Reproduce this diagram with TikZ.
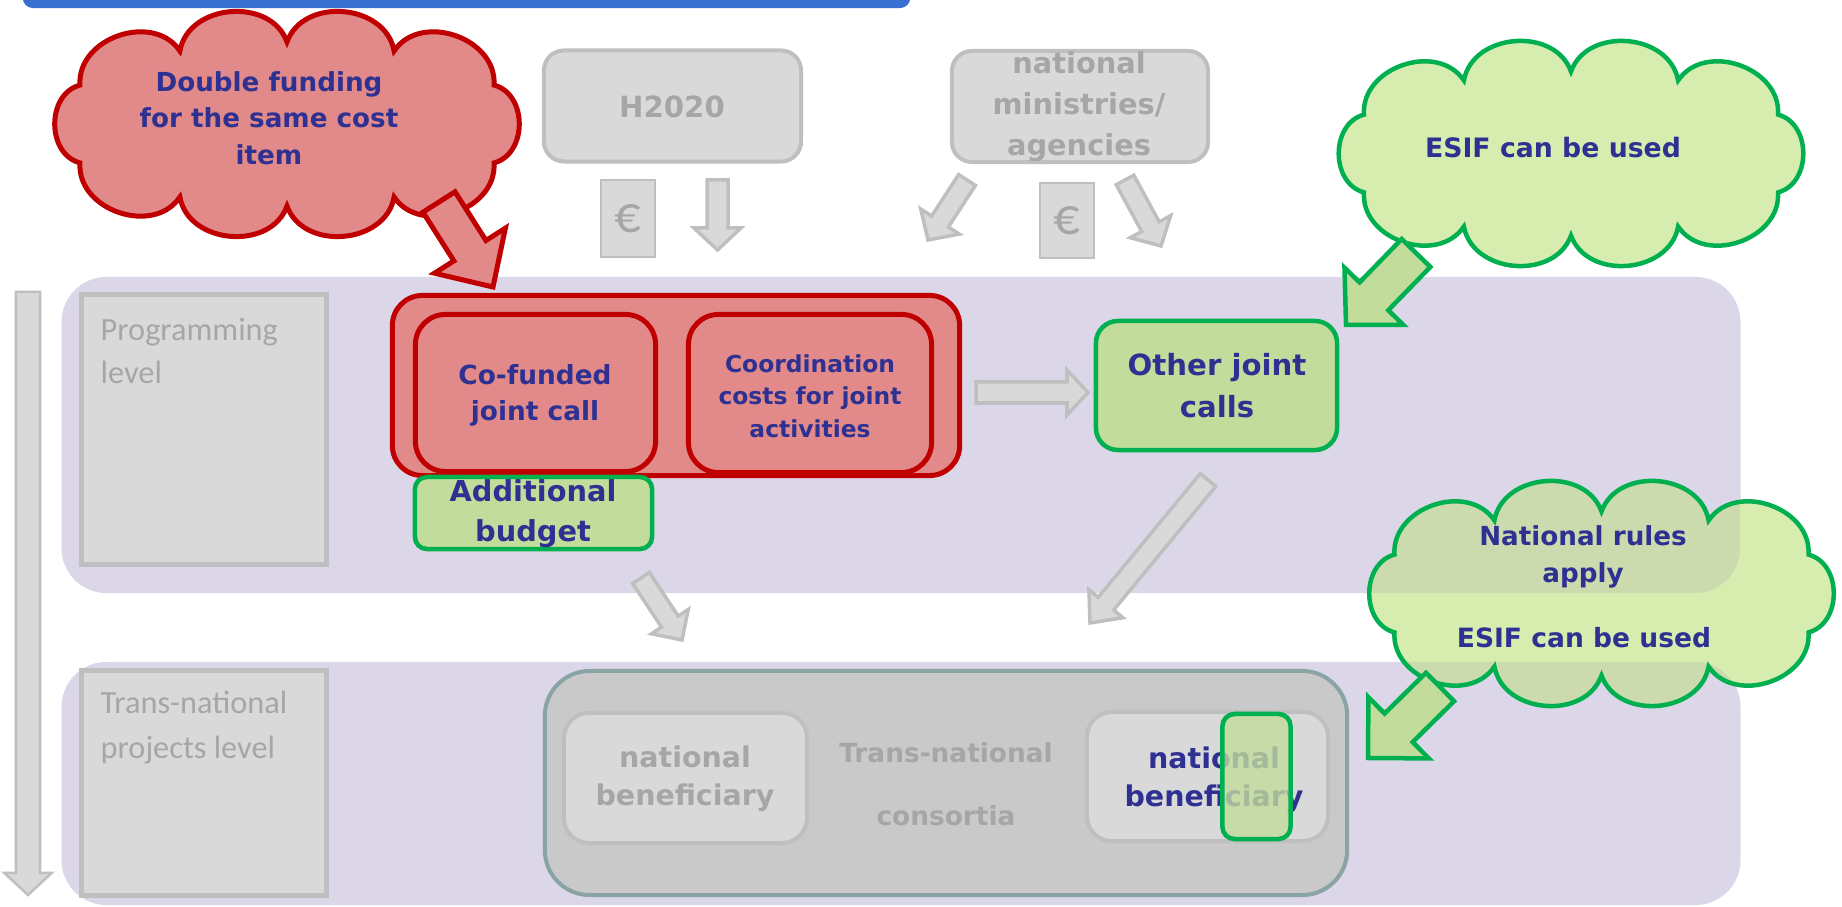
\documentclass[tikz,border=0pt]{standalone}
\usepackage{fontspec}
\setmainfont{DejaVu Sans}
\newfontfamily\calib{Carlito}
\usetikzlibrary{calc}
\definecolor{txtblue}{HTML}{2E3192}
\definecolor{gtxt}{HTML}{A6A6A6}
\definecolor{gfill}{HTML}{D9D9D9}
\definecolor{gline}{HTML}{BFBFBF}
\definecolor{redline}{HTML}{C00000}
\definecolor{redfill}{HTML}{E28A8A}
\definecolor{grnline}{HTML}{00B050}
\definecolor{grnfill}{HTML}{C2DC9B}
\definecolor{cloudfill}{HTML}{D7EDB0}
\definecolor{bandcol}{HTML}{DCD7E8}
\definecolor{bandpurple}{HTML}{8064A2}
\definecolor{consfill}{HTML}{C9C9C9}
\definecolor{consline}{HTML}{8AA4A6}
\definecolor{barblue}{HTML}{3A6FD2}
\newcommand\fs[2]{\fontsize{#1}{#2}\selectfont}
\newcommand\blockarrow[6]{%
 \coordinate (hb) at ($(#3)!#6!(#2)$);
 \draw[#1] ($(#2)!#4!90:(#3)$) -- ($(hb)!#4!90:(#3)$) -- ($(hb)!#5!90:(#3)$) -- (#3) -- ($(hb)!#5!-90:(#3)$) -- ($(hb)!#4!-90:(#3)$) -- ($(#2)!#4!-90:(#3)$) -- cycle;}
\def\cloudspec{(28.3:2.35cm and 0.82cm) foreach \a in {62.9,90,117.1,151.7,208.3,242.9,270,297.1,331.7,28.3} { to[bend right=75, looseness=1.15] (\a:2.35cm and 0.82cm)} -- cycle}
\tikzset{
 box/.style={inner sep=0pt, outer sep=0pt},
 graybox/.style={box, draw=gline, fill=gfill, line width=0.04cm},
 labelbox/.style={box, draw=gline, fill=gfill, line width=0.05cm},
 redbox/.style={box, draw=redline, fill=redfill, line width=0.05cm, rounded corners=0.3cm},
 grnbox/.style={box, draw=grnline, fill=grnfill, line width=0.045cm},
 bandbox/.style={box, fill=bandcol, rounded corners=0.45cm},
 btxt/.style={inner sep=0pt, text=txtblue, font=\bfseries, align=center},
 gtext/.style={inner sep=0pt, text=gtxt, font=\bfseries, align=center},
 ltext/.style={inner sep=0pt, text=gtxt, align=left, anchor=west},
 garrow/.style={draw=gline, fill=gfill, line width=0.035cm, line join=miter},
 rarrow/.style={draw=redline, fill=redfill, line width=0.05cm, line join=miter},
 narrow/.style={draw=grnline, fill=grnfill, line width=0.045cm, line join=miter},
}
\begin{document}
\begin{tikzpicture}[x=0.01cm,y=-0.01cm]
\useasboundingbox (0,0) rectangle (1842,907);
% top blue bar
\node[box, fill=barblue, rounded corners=0.1cm, minimum width=8.87cm, minimum height=0.5cm] (bar) at (466.5,-17) {};
% bands
\node[bandbox, minimum width=16.78cm, minimum height=3.16cm] (band1) at (901,435) {};
\node[bandbox, minimum width=16.78cm, minimum height=2.43cm] (band2) at (901,783.5) {};
% level labels
\node[labelbox, minimum width=2.45cm, minimum height=2.70cm] (proglab) at (204,429.5) {};
\node[ltext, font=\calib\fs{9.2}{12}] (progtxt) at (100,351) {Programming\\level};
\node[labelbox, minimum width=2.45cm, minimum height=2.25cm] (translab) at (204,783) {};
\node[ltext, font=\calib\fs{9.2}{12.8}] (transtxt) at (100,727.5) {Trans-national\\projects level};
% left vertical arrow
\coordinate (lvA) at (28,292); \coordinate (lvB) at (28,895);
\blockarrow{garrow, line width=0.025cm}{lvA}{lvB}{0.12cm}{0.235cm}{0.22cm}
% funders
\node[graybox, rounded corners=0.2cm, minimum width=2.57cm, minimum height=1.11cm] (h2020) at (672.5,106) {};
\node[gtext, font=\bfseries\fs{8.3}{11}] (h2020t) at (672,107) {H2020};
\node[graybox, rounded corners=0.2cm, minimum width=2.56cm, minimum height=1.11cm] (minis) at (1080,106.5) {};
\node[gtext, font=\bfseries\fs{8.2}{11.7}] (minist) at (1079,107) {national\\ministries/\\agencies};
\node[box, draw=gline, fill=gfill, line width=0.02cm, minimum width=0.54cm, minimum height=0.77cm] (euro1) at (628,218.5) {};
\node[inner sep=0pt, text=gtxt, font=\calib\fs{15}{15}] (euro1t) at (euro1) {€};
\node[box, draw=gline, fill=gfill, line width=0.02cm, minimum width=0.54cm, minimum height=0.75cm] (euro2) at (1067,220.5) {};
\node[inner sep=0pt, text=gtxt, font=\calib\fs{15}{15}] (euro2t) at (euro2) {€};
\coordinate (hA) at (717.5,180); \coordinate (hB) at (717.5,250);
\blockarrow{garrow}{hA}{hB}{0.105cm}{0.235cm}{0.22cm}
\coordinate (mlA) at (967,180); \coordinate (mlB) at (928,240);
\blockarrow{garrow}{mlA}{mlB}{0.10cm}{0.23cm}{0.22cm}
\coordinate (mrA) at (1125,180); \coordinate (mrB) at (1161,246);
\blockarrow{garrow}{mrA}{mrB}{0.10cm}{0.23cm}{0.22cm}
% red group
\node[redbox, minimum width=5.67cm, minimum height=1.80cm] (redouter) at (676,385.5) {};
\node[redbox, minimum width=2.40cm, minimum height=1.57cm] (cofund) at (535.5,393) {};
\node[btxt, font=\bfseries\fs{7.5}{10.2}] (cofundt) at (535,395) {Co-funded\\joint call};
\node[redbox, minimum width=2.43cm, minimum height=1.58cm] (coord) at (810,393.5) {};
\node[btxt, font=\bfseries\fs{6.65}{9.25}] (coordt) at (810,396) {Coordination\\costs for joint\\activities};
\node[grnbox, rounded corners=0.12cm, minimum width=2.37cm, minimum height=0.72cm] (addb) at (533.5,513) {};
\node[btxt, font=\bfseries\fs{8.2}{11.4}] (addbt) at (533,514) {Additional\\budget};
% other joint calls
\node[grnbox, rounded corners=0.22cm, minimum width=2.41cm, minimum height=1.29cm] (other) at (1216.5,385.5) {};
\node[btxt, font=\bfseries\fs{8.3}{12}] (othert) at (1217,386) {Other joint\\calls};
\coordinate (rA) at (976,392.5); \coordinate (rB) at (1088,392.5);
\blockarrow{garrow}{rA}{rB}{0.105cm}{0.225cm}{0.21cm}
\coordinate (dA) at (1208,480); \coordinate (dB) at (1090,623);
\blockarrow{garrow}{dA}{dB}{0.10cm}{0.22cm}{0.25cm}
\coordinate (sA) at (641,578); \coordinate (sB) at (682,640);
\blockarrow{garrow}{sA}{sB}{0.10cm}{0.22cm}{0.22cm}
% consortia
\node[box, draw=consline, fill=consfill, line width=0.04cm, rounded corners=0.45cm, minimum width=8.02cm, minimum height=2.24cm] (cons) at (946,783) {};
\node[gtext, font=\bfseries\fs{7.5}{18}] (const) at (946,784.5) {Trans-national\\consortia};
\node[graybox, rounded corners=0.25cm, minimum width=2.43cm, minimum height=1.30cm] (nbl) at (685.5,778) {};
\node[gtext, font=\bfseries\fs{8.1}{10.8}] (nblt) at (685,779) {national\\beneficiary};
\node[graybox, rounded corners=0.25cm, minimum width=2.41cm, minimum height=1.29cm] (nbr) at (1207.5,776.5) {};
\node[btxt, font=\bfseries\fs{8.1}{10.8}] (nbrt) at (1214,779.5) {national\\beneficiary};
\node[box, draw=grnline, fill=grnfill, fill opacity=0.8, line width=0.045cm, rounded corners=0.12cm, minimum width=0.68cm, minimum height=1.25cm] (overlay) at (1256.5,776.5) {};
% red cloud
\draw[draw=redline, fill=redfill, line width=0.05cm, shift={(287,124)}] \cloudspec;
\node[btxt, font=\bfseries\fs{7.45}{10.4}] (rcloudt) at (269,118) {Double funding\\for the same cost\\item};
\coordinate (raA) at (439,202); \coordinate (raB) at (493,287);
\blockarrow{rarrow}{raA}{raB}{0.19cm}{0.42cm}{0.43cm}
% green cloud top
\draw[draw=grnline, fill=cloudfill, line width=0.045cm, shift={(1571,153.5)}] \cloudspec;
\node[btxt, font=\bfseries\fs{7.6}{10.4}] (gcloud1t) at (1553,148) {ESIF can be used};
\coordinate (g1A) at (1416,253); \coordinate (g1B) at (1346,325);
\blockarrow{narrow}{g1A}{g1B}{0.20cm}{0.41cm}{0.40cm}
% green cloud bottom
\fill[cloudfill, shift={(1601.5,593.5)}] \cloudspec;
\begin{scope}
\clip[shift={(1601.5,593.5)}] \cloudspec;
\fill[bandpurple, fill opacity=0.13] (62,277) [rounded corners=0.45cm] rectangle (1740,593);
\fill[bandpurple, fill opacity=0.13] (62,662) [rounded corners=0.45cm] rectangle (1740,905);
\end{scope}
\draw[draw=grnline, line width=0.045cm, shift={(1601.5,593.5)}] \cloudspec;
\node[btxt, font=\bfseries\fs{7.45}{10.5}] (gcloud2t) at (1583,556.5) {National rules\\apply};
\node[btxt, font=\bfseries\fs{7.55}{10.4}] (gcloud2u) at (1584,638) {ESIF can be used};
\coordinate (g2A) at (1440,687); \coordinate (g2B) at (1368,758);
\blockarrow{narrow}{g2A}{g2B}{0.20cm}{0.43cm}{0.43cm}
\end{tikzpicture}
\end{document}
